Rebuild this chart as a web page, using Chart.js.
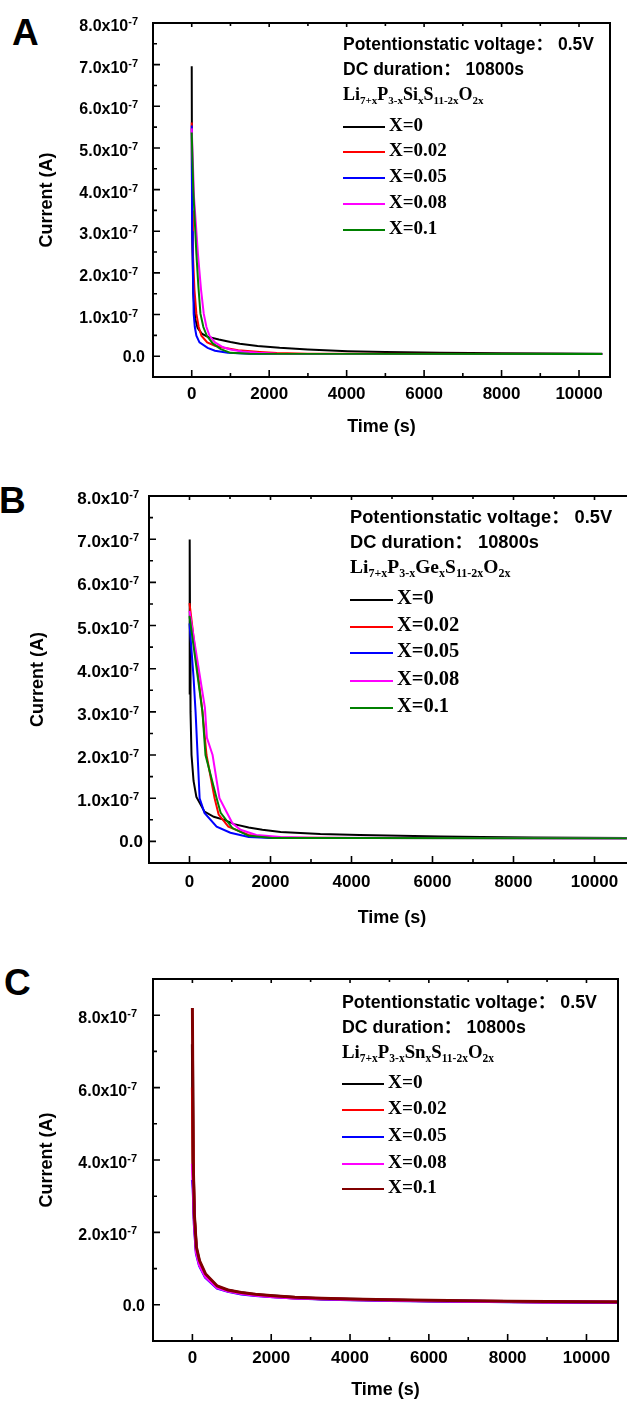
<!DOCTYPE html>
<html>
<head>
<meta charset="utf-8">
<script src="https://cdn.jsdelivr.net/npm/chart.js@4.4.1/dist/chart.umd.min.js"></script>
<style>
html, body { margin: 0; padding: 0; background: #fff; overflow: hidden; width: 627px; height: 1405px; }
.panel { position: absolute; left: 0; }
.panel canvas { position: absolute; left: 0; top: 0; }
.letter { position: absolute; font: bold 37px "Liberation Sans", Arial, sans-serif; line-height: 37px; color: #000; }
.legend { position: absolute; left: 0; top: 0; color: #000; }
.legend .row { position: absolute; white-space: nowrap; height: 24px; line-height: 24px; }
.sans { font-family: "Liberation Sans", Arial, sans-serif; font-weight: bold; }
.serif { font-family: "Liberation Serif", "Times New Roman", serif; font-weight: bold; }
.cjk { font-family: "Noto Sans CJK SC", sans-serif; font-weight: bold; }
.legend sub { vertical-align: -4px; line-height: 0; }
.sw { display: inline-block; vertical-align: middle; height: 2px; margin-right: 4px; }
</style>
</head>
<body>

<div class="letter" style="left:12px;top:14px">A</div>
<div class="letter" style="left:-1px;top:482px">B</div>
<div class="letter" style="left:4px;top:964px">C</div>

<div class="panel" id="pA" style="top:0px;width:627px;height:450px"><canvas id="cA" width="627" height="450"></canvas></div>
<div class="panel" id="pB" style="top:455px;width:640px;height:480px"><canvas id="cB" width="640" height="480"></canvas></div>
<div class="panel" id="pC" style="top:940px;width:627px;height:465px"><canvas id="cC" width="627" height="465"></canvas></div>

<script>
// current values are in units of 1e-7 A, time in s
const seriesNames = ['X=0', 'X=0.02', 'X=0.05', 'X=0.08', 'X=0.1'];
const colorsAB = ['#000000', '#ff0000', '#0000ff', '#ff00ff', '#008000'];
const colorsC = ['#000000', '#ff0000', '#0000ff', '#ff00ff', '#800000'];

const xTicks = [0, 2000, 4000, 6000, 8000, 10000];
const yTicksAB = [0, 1, 2, 3, 4, 5, 6, 7, 8];
const yTicksC = [0, 2, 4, 6, 8];

// A: Li7+xP3-xSixS11-2xO2x
const tSi0 = [0, 10, 40, 90, 150, 260, 400, 700, 1000, 1240, 1700, 2270, 3000, 4030, 5000, 6400, 8000, 9500, 10600];
const iSi0 = [6.96, 3.0, 1.5, 0.9, 0.68, 0.54, 0.47, 0.40, 0.34, 0.30, 0.245, 0.20, 0.16, 0.12, 0.10, 0.08, 0.07, 0.065, 0.06];
const tSi2 = [0, 10, 30, 70, 120, 180, 250, 400, 600, 830, 1200, 1760, 2200, 3000, 10600];
const iSi2 = [5.61, 3.5, 2.46, 1.6, 1.02, 0.7, 0.49, 0.33, 0.25, 0.2, 0.14, 0.1, 0.075, 0.06, 0.05];
const tSi5 = [0, 10, 25, 50, 80, 120, 200, 410, 600, 930, 1500, 10600];
const iSi5 = [5.54, 3.0, 2.46, 1.02, 0.7, 0.49, 0.33, 0.2, 0.13, 0.08, 0.06, 0.05];
const tSi8 = [0, 60, 160, 240, 310, 380, 460, 600, 800, 1000, 1300, 1700, 2200, 4000, 10600];
const iSi8 = [5.47, 3.8, 2.46, 1.6, 1.02, 0.7, 0.49, 0.33, 0.22, 0.16, 0.11, 0.08, 0.06, 0.055, 0.05];
const tSi10 = [0, 40, 120, 170, 225, 300, 390, 550, 750, 1000, 1500, 10600];
const iSi10 = [5.37, 4.0, 2.46, 1.7, 1.02, 0.7, 0.49, 0.3, 0.17, 0.08, 0.06, 0.05];

// B: Li7+xP3-xGexS11-2xO2x
const tGe0 = [0, 5, 15, 25, 50, 100, 170, 370, 600, 860, 1100, 1460, 1800, 2250, 3230, 4200, 5200, 6200, 7200, 8500, 10800];
const iGe0 = [3.4, 6.99, 4.5, 3.0, 2.0, 1.4, 1.03, 0.69, 0.57, 0.5, 0.4, 0.32, 0.27, 0.22, 0.17, 0.15, 0.13, 0.115, 0.1, 0.09, 0.08];
const tGe2 = [0, 320, 420, 620, 720, 960, 1460, 2000, 4000, 10800];
const iGe2 = [5.52, 3.0, 2.0, 1.0, 0.62, 0.34, 0.15, 0.09, 0.08, 0.075];
const tGe5 = [0, 100, 150, 200, 250, 370, 670, 1010, 1460, 2000, 4000, 10800];
const iGe5 = [5.05, 3.8, 3.0, 2.0, 1.0, 0.66, 0.34, 0.2, 0.1, 0.08, 0.078, 0.075];
const tGe8 = [0, 380, 430, 570, 740, 1060, 1260, 1650, 2250, 3000, 10800];
const iGe8 = [5.34, 3.1, 2.4, 2.0, 1.0, 0.42, 0.27, 0.15, 0.1, 0.085, 0.075];
const tGe10 = [0, 320, 395, 670, 770, 1060, 1460, 2050, 4000, 10800];
const iGe10 = [5.22, 3.0, 2.0, 1.0, 0.66, 0.31, 0.13, 0.08, 0.077, 0.075];

// C: Li7+xP3-xSnxS11-2xO2x (shared time base)
const tSn = [0, 20, 50, 100, 180, 330, 630, 900, 1240, 1600, 2050, 2600, 3270, 4000, 5000, 6000, 7000, 8000, 9000, 10000, 10800];
const iSn0 = [7.2, 3.8, 2.4, 1.55, 1.18, 0.83, 0.5, 0.4, 0.33, 0.28, 0.24, 0.2, 0.17, 0.15, 0.13, 0.115, 0.1, 0.09, 0.085, 0.08, 0.075];
const iSn2 = [6.0, 3.7, 2.35, 1.5, 1.15, 0.8, 0.49, 0.39, 0.32, 0.27, 0.23, 0.19, 0.165, 0.145, 0.125, 0.11, 0.1, 0.09, 0.08, 0.075, 0.07];
const iSn5 = [3.45, 3.2, 2.2, 1.42, 1.08, 0.76, 0.46, 0.37, 0.3, 0.26, 0.22, 0.185, 0.16, 0.14, 0.12, 0.105, 0.095, 0.085, 0.075, 0.07, 0.065];
const iSn8 = [3.9, 3.3, 2.25, 1.45, 1.1, 0.78, 0.47, 0.38, 0.31, 0.265, 0.225, 0.19, 0.165, 0.145, 0.125, 0.11, 0.1, 0.09, 0.08, 0.075, 0.07];
const iSn10 = [8.2, 4.0, 2.5, 1.6, 1.22, 0.86, 0.52, 0.41, 0.34, 0.29, 0.25, 0.21, 0.18, 0.16, 0.14, 0.125, 0.11, 0.1, 0.09, 0.085, 0.08];

Chart.defaults.font.family = "'Liberation Sans', Arial, sans-serif";
Chart.defaults.color = '#000';

// frame, inward ticks and y labels with a superscript exponent
const frameTicks = {
    id: 'frameTicks',
    afterDraw(chart, args, o) {
        const {ctx, chartArea: {left, right, top, bottom}, scales: {x, y}} = chart;
        ctx.save();
        ctx.strokeStyle = '#000';
        ctx.lineWidth = 2;
        ctx.strokeRect(left, top, right - left, bottom - top);

        ctx.lineWidth = 1.6;
        ctx.beginPath();
        const xs = o.xMajor, ys = o.yMajor;
        const xStep = xs[1] - xs[0], yStep = ys[1] - ys[0];
        xs.forEach(v => {
            const p = x.getPixelForValue(v);
            ctx.moveTo(p, bottom); ctx.lineTo(p, bottom - 7);
            ctx.moveTo(p, top); ctx.lineTo(p, top + 4);
        });
        for (let v = xs[0] - xStep / 2; v < x.max; v += xStep) {
            if (v <= x.min) continue;
            const p = x.getPixelForValue(v);
            ctx.moveTo(p, bottom); ctx.lineTo(p, bottom - 4);
            ctx.moveTo(p, top); ctx.lineTo(p, top + 3);
        }
        ys.forEach(v => {
            const p = y.getPixelForValue(v);
            ctx.moveTo(left, p); ctx.lineTo(left + 7, p);
        });
        for (let v = ys[0] - yStep / 2; v < y.max; v += yStep) {
            if (v <= y.min) continue;
            const p = y.getPixelForValue(v);
            ctx.moveTo(left, p); ctx.lineTo(left + 4, p);
        }
        ctx.stroke();

        ctx.fillStyle = '#000';
        ctx.textAlign = 'right';
        ctx.textBaseline = 'alphabetic';
        ys.forEach(v => {
            const p = y.getPixelForValue(v);
            if (v === 0) {
                ctx.font = o.labelFont;
                ctx.fillText('0.0', left - o.zeroGap, p + 6);
                return;
            }
            const xr = left - o.supGap;
            ctx.font = o.supFont;
            const sw = ctx.measureText('-7').width;
            ctx.fillText('-7', xr, p + 2);
            ctx.font = o.labelFont;
            ctx.fillText(v.toFixed(1) + 'x10', xr - sw, p + 8);
        });
        ctx.restore();
    }
};

function drawPanel(p) {
    const canvas = document.getElementById(p.canvasId);
    const W = canvas.width, H = canvas.height;
    const datasets = p.series.map((s, i) => ({
        label: seriesNames[i],
        data: s[0].map((t, k) => ({x: t, y: s[1][k]})),
        borderColor: p.colors[i],
        backgroundColor: p.colors[i],
        borderWidth: p.lineWidth,
        pointRadius: 0,
        tension: 0,
        fill: false,
        order: -i
    }));

    new Chart(canvas, {
        type: 'line',
        data: {datasets},
        plugins: [frameTicks],
        options: {
            responsive: false,
            animation: false,
            devicePixelRatio: 1,
            layout: {padding: {left: 0, top: p.area.top, right: W - p.area.right, bottom: 0}},
            plugins: {
                legend: {display: false},
                tooltip: {enabled: false},
                frameTicks: {
                    xMajor: xTicks, yMajor: p.yTicks,
                    labelFont: 'bold ' + p.yFont + 'px "Liberation Sans", Arial, sans-serif',
                    supFont: 'bold 11px "Liberation Sans", Arial, sans-serif',
                    supGap: p.supGap, zeroGap: p.zeroGap
                }
            },
            scales: {
                x: {
                    type: 'linear', position: 'bottom',
                    min: -1000, max: p.xMax,
                    grid: {display: false, drawTicks: false},
                    border: {display: false},
                    ticks: {font: {size: 17, weight: 'bold'}, color: '#000', padding: p.xPad, maxRotation: 0,
                        callback: v => String(v)},
                    afterBuildTicks: s => { s.ticks = xTicks.map(v => ({value: v})); },
                    afterFit: s => { s.height = H - p.area.bottom; },
                    title: {display: true, text: 'Time (s)', color: '#000',
                        font: {size: 18, weight: 'bold'}, padding: {top: 0, bottom: p.xTitlePad}}
                },
                y: {
                    type: 'linear', position: 'left',
                    min: p.yMin, max: p.yMax,
                    grid: {display: false, drawTicks: false},
                    border: {display: false},
                    ticks: {display: false},
                    afterFit: s => { s.width = p.area.left; },
                    title: {display: true, text: 'Current (A)', color: '#000',
                        font: {size: 18, weight: 'bold'}, padding: {top: p.yTitlePad, bottom: 0}}
                }
            }
        }
    });

    // legend block inside the plot
    const box = document.createElement('div');
    box.className = 'legend';
    const L = p.legend;
    const rows = [
        '<span class="sans" style="font-size:' + L.head + 'px">Potentionstatic voltage<span class="cjk">：</span> 0.5V</span>',
        '<span class="sans" style="font-size:' + L.head + 'px">DC duration<span class="cjk">：</span> 10800s</span>',
        '<span class="serif" style="font-size:' + L.formula + 'px">' + p.formula.replace(/<sub>/g, '<sub style="font-size:' + L.sub + 'px">') + '</span>'
    ];
    seriesNames.forEach((n, i) => {
        rows.push('<span class="sw" style="width:' + L.sw + 'px;background:' + p.colors[i] + '"></span>' +
            '<span class="serif" style="font-size:' + L.xs + 'px">' + n + '</span>');
    });
    rows.forEach((html, i) => {
        const r = document.createElement('div');
        r.className = 'row';
        r.style.left = L.left + 'px';
        r.style.top = (L.rows[i] - 12) + 'px';
        r.innerHTML = html;
        box.appendChild(r);
    });
    document.getElementById(p.panelId).appendChild(box);
}

drawPanel({
    panelId: 'pA', canvasId: 'cA',
    area: {left: 153, top: 23, right: 610, bottom: 377},
    xMax: 10800, yMin: -0.5, yMax: 8, yTicks: yTicksAB,
    xPad: 7, xTitlePad: 12, yTitlePad: 36, yFont: 16, supGap: 15, zeroGap: 8,
    colors: colorsAB, lineWidth: 2,
    series: [[tSi0, iSi0], [tSi2, iSi2], [tSi5, iSi5], [tSi8, iSi8], [tSi10, iSi10]],
    formula: 'Li<sub>7+x</sub>P<sub>3-x</sub>Si<sub>x</sub>S<sub>11-2x</sub>O<sub>2x</sub>',
    legend: {left: 343, rows: [43, 68, 94, 125, 150, 176, 202, 228], sw: 42, head: 17.5, formula: 18, sub: 11, xs: 19}
});

drawPanel({
    panelId: 'pB', canvasId: 'cB',
    area: {left: 149, top: 41, right: 635, bottom: 408},
    xMax: 11000, yMin: -0.5, yMax: 8, yTicks: yTicksAB,
    xPad: 9, xTitlePad: 6, yTitlePad: 27, yFont: 17, supGap: 10, zeroGap: 6,
    colors: colorsAB, lineWidth: 2,
    series: [[tGe0, iGe0], [tGe2, iGe2], [tGe5, iGe5], [tGe8, iGe8], [tGe10, iGe10]],
    formula: 'Li<sub>7+x</sub>P<sub>3-x</sub>Ge<sub>x</sub>S<sub>11-2x</sub>O<sub>2x</sub>',
    legend: {left: 350, rows: [60, 85, 112, 142, 169, 195, 223, 250], sw: 43, head: 18.3, formula: 19.5, sub: 12, xs: 20.5}
});

drawPanel({
    panelId: 'pC', canvasId: 'cC',
    area: {left: 153, top: 39, right: 618, bottom: 401},
    xMax: 10800, yMin: -1, yMax: 9, yTicks: yTicksC,
    xPad: 7, xTitlePad: 4, yTitlePad: 36, yFont: 16, supGap: 16, zeroGap: 8,
    colors: colorsC, lineWidth: 3,
    series: [[tSn, iSn0], [tSn, iSn2], [tSn, iSn5], [tSn, iSn8], [tSn, iSn10]],
    formula: 'Li<sub>7+x</sub>P<sub>3-x</sub>Sn<sub>x</sub>S<sub>11-2x</sub>O<sub>2x</sub>',
    legend: {left: 342, rows: [60, 85, 112, 142, 168, 195, 222, 247], sw: 42, head: 17.8, formula: 18.8, sub: 11.5, xs: 19.3}
});
</script>
</body>
</html>
